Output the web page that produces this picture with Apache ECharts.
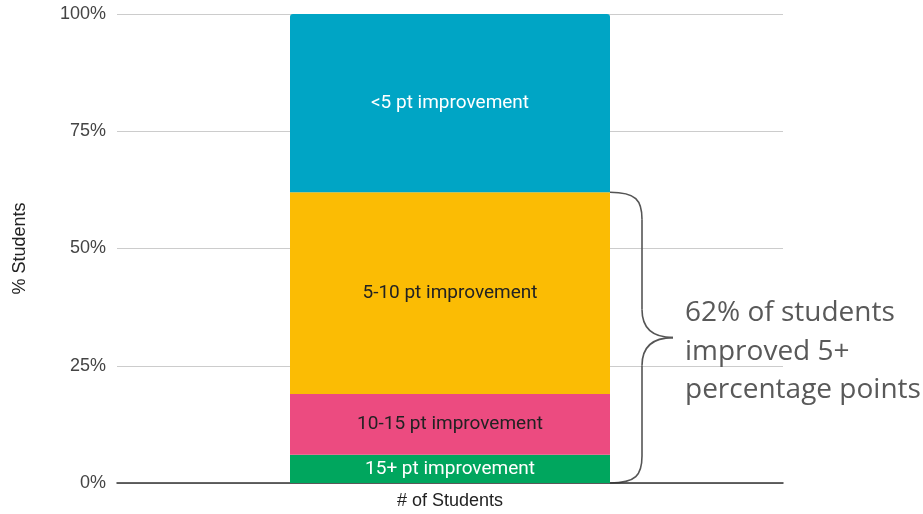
<!DOCTYPE html>
<html>
<head>
<meta charset="utf-8">
<script src="https://cdn.jsdelivr.net/npm/echarts@6/dist/echarts.min.js"></script>
<style>
  html, body { margin: 0; padding: 0; background: #fff; }
  #chart { width: 923px; height: 514px; }
</style>
</head>
<body>
<div id="chart"></div>
<script>
// data
const categories = ['# of Students']
const seriesNames = ['15+ pt improvement', '10-15 pt improvement', '5-10 pt improvement', '<5 pt improvement']
const seriesValues = [6, 13, 43, 38]
const seriesColors = ['#00A65E', '#EC4B80', '#FBBC04', '#00A5C5']
const labelColors = ['#ffffff', '#222222', '#222222', '#ffffff']
const yTicks = [0, 25, 50, 75, 100]
const braceValue = 62
const noteLines = ['62% of students', 'improved 5+', 'percentage points']

const chart = echarts.init(document.getElementById('chart'))

const barWidth = 320

const series = seriesNames.map((name, i) => ({
  name,
  type: 'bar',
  stack: 'total',
  barWidth,
  data: [seriesValues[i]],
  itemStyle: {
    color: seriesColors[i],
    borderRadius: i === seriesNames.length - 1 ? [3, 3, 0, 0] : 0
  },
  label: {
    show: true,
    position: 'inside',
    formatter: name,
    color: labelColors[i],
    fontFamily: 'Roboto',
    fontSize: 19
  },
  emphasis: { disabled: true }
}))

chart.setOption({
  animation: false,
  grid: { left: 117, right: 140, top: 14, bottom: 31 },
  xAxis: {
    type: 'category',
    data: categories,
    axisLine: { lineStyle: { color: '#333', width: 1.5 } },
    axisTick: { show: false },
    axisLabel: { color: '#222', fontFamily: 'Liberation Sans', fontSize: 18, margin: 9 }
  },
  yAxis: {
    type: 'value',
    min: yTicks[0],
    max: yTicks[yTicks.length - 1],
    interval: 25,
    name: '% Students',
    nameLocation: 'middle',
    nameGap: 88,
    nameTextStyle: { color: '#222', fontFamily: 'Liberation Sans', fontSize: 18 },
    axisLabel: { formatter: '{value}%', color: '#444', fontFamily: 'Liberation Sans', fontSize: 18, margin: 11 },
    splitLine: { lineStyle: { color: '#ccc' } },
    axisLine: { show: false },
    axisTick: { show: false }
  },
  series
})

// brace annotation, positioned from the data
const cx = chart.convertToPixel({ xAxisIndex: 0 }, categories[0])
const x0 = cx + barWidth / 2
const yTop = chart.convertToPixel({ yAxisIndex: 0 }, braceValue)
const yBot = chart.convertToPixel({ yAxisIndex: 0 }, 0)
const yMid = (yTop + yBot) / 2
const xv = x0 + 32
const xt = x0 + 63
const braceStyle = { stroke: '#555', lineWidth: 1.6, fill: null }

chart.setOption({
  graphic: [
    { type: 'bezierCurve', shape: { x1: x0, y1: yTop, cpx1: x0 + 26, cpy1: yTop, cpx2: xv, cpy2: yTop + 8, x2: xv, y2: yTop + 27 }, style: braceStyle },
    { type: 'line', shape: { x1: xv, y1: yTop + 27, x2: xv, y2: yMid - 28 }, style: braceStyle },
    { type: 'bezierCurve', shape: { x1: xv, y1: yMid - 28, cpx1: xv, cpy1: yMid - 6, cpx2: xv + 14, cpy2: yMid, x2: xt, y2: yMid }, style: braceStyle },
    { type: 'bezierCurve', shape: { x1: xt, y1: yMid, cpx1: xv + 14, cpy1: yMid, cpx2: xv, cpy2: yMid + 6, x2: xv, y2: yMid + 28 }, style: braceStyle },
    { type: 'line', shape: { x1: xv, y1: yMid + 28, x2: xv, y2: yBot - 27 }, style: braceStyle },
    { type: 'bezierCurve', shape: { x1: xv, y1: yBot - 27, cpx1: xv, cpy1: yBot - 8, cpx2: x0 + 26, cpy2: yBot, x2: x0, y2: yBot }, style: braceStyle },
    {
      type: 'text',
      x: x0 + 75,
      y: yMid + 14,
      style: {
        text: noteLines.join('\n'),
        fill: '#595959',
        font: '28px "Open Sans"',
        lineHeight: 38.5,
        textAlign: 'left',
        textVerticalAlign: 'middle'
      }
    }
  ]
})

window.addEventListener('resize', () => chart.resize())
</script>
</body>
</html>
